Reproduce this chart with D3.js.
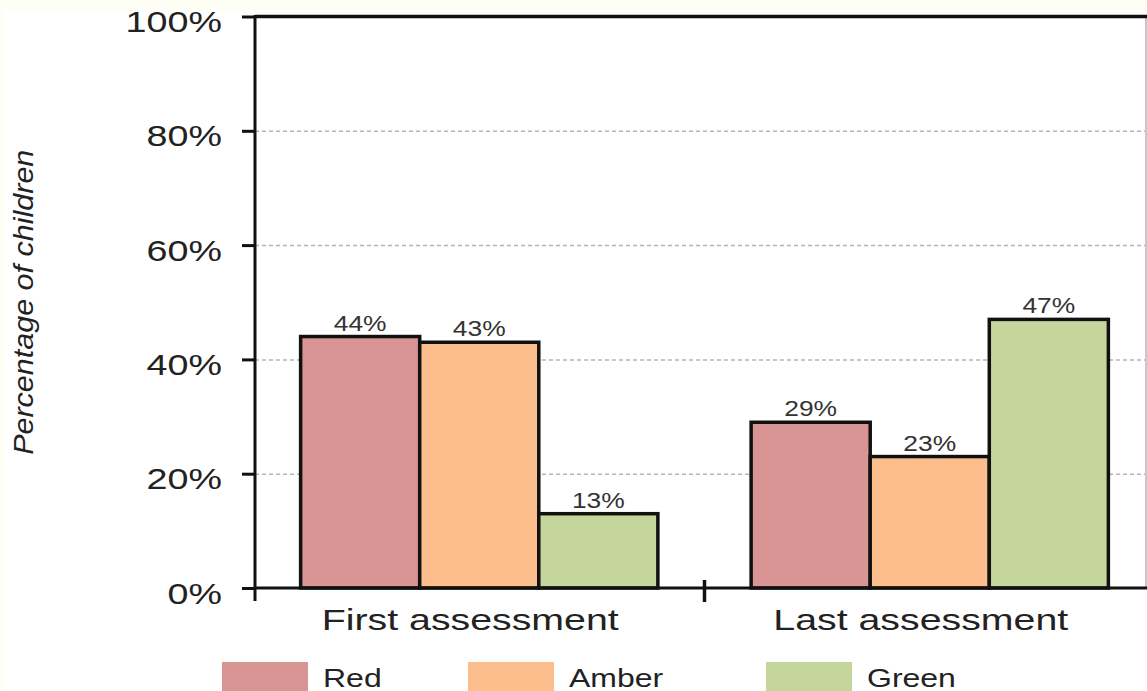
<!DOCTYPE html>
<html>
<head>
  <meta charset='utf-8'>
  <style>
  body { margin: 0; background: #fffef4; }
  svg { display: block; }
  text { font-family: 'Liberation Sans', Arial, sans-serif; fill: #222; }
  .grid line { stroke: #b4b4b4; stroke-width: 1.5px; stroke-dasharray: 4,3; }
  .grid path { display: none; }
  .bar { stroke: #111; stroke-width: 3.5px; }
  </style>
</head>
<body>
<script src='https://d3js.org/d3.v7.min.js'></script>
<script>

var groups = ['First assessment', 'Last assessment'];
var series = ['Red', 'Amber', 'Green'];
var colors = ['#d99594', '#fbbe8c', '#c4d69b'];
var firstValues = [44, 43, 13];
var lastValues = [29, 23, 47];
var yTicks = [0, 20, 40, 60, 80, 100];

var W = 1147, H = 691;
var axisX = 255, plotTop = 16.5, plotBottom = 588, plotRight = 1147;

var svg = d3.select('body').append('svg')
    .attr('width', W).attr('height', H);

svg.append('rect')
    .attr('x', 5).attr('y', 11)
    .attr('width', W).attr('height', H)
    .attr('fill', '#fff');

var x0 = d3.scaleBand()
    .domain(groups)
    .range([254, 1155])
    .paddingInner(0.207)
    .paddingOuter(0.1035);

var x1 = d3.scaleBand()
    .domain(series)
    .range([0, x0.bandwidth()]);

var y = d3.scaleLinear()
    .domain([0, 100])
    .range([plotBottom, plotTop]);

var color = d3.scaleOrdinal().domain(series).range(colors);

var data = [];
groups.forEach(function(g, gi) {
  var vals = gi === 0 ? firstValues : lastValues;
  series.forEach(function(s, si) {
    data.push({group: g, series: s, value: vals[si]});
  });
});

// stretched text helper (the source picture is wider than its fonts)
function stext(sel, size, sx) {
  return sel.style('font-size', size + 'px')
      .attr('transform', function() {
        var t = d3.select(this);
        return 'translate(' + t.attr('data-x') + ',' + t.attr('data-y') + ') scale(' + sx + ',1)';
      });
}

// dashed grid
svg.append('g')
    .attr('class', 'grid')
    .attr('transform', 'translate(' + axisX + ',0)')
    .call(d3.axisLeft(y).tickValues(yTicks.filter(function(d) { return d > 0 && d < 100; }))
      .tickSize(-(plotRight - axisX)).tickFormat(''));

// right border
svg.append('line')
    .attr('x1', plotRight - 1).attr('x2', plotRight - 1)
    .attr('y1', plotTop).attr('y2', plotBottom)
    .attr('stroke', '#c8c8c8').attr('stroke-width', 2);

// bars
svg.append('g').selectAll('rect')
    .data(data)
    .enter().append('rect')
    .attr('class', 'bar')
    .attr('x', function(d) { return x0(d.group) + x1(d.series); })
    .attr('y', function(d) { return y(d.value); })
    .attr('width', x1.bandwidth())
    .attr('height', function(d) { return y(0) - y(d.value); })
    .attr('fill', function(d) { return color(d.series); });

// value labels
svg.append('g').selectAll('text')
    .data(data)
    .enter().append('text')
    .attr('data-x', function(d) { return x0(d.group) + x1(d.series) + x1.bandwidth() / 2; })
    .attr('data-y', function(d) { return y(d.value) - 6; })
    .attr('text-anchor', 'middle')
    .style('fill', '#333')
    .text(function(d) { return d.value + '%'; })
    .call(stext, 22, 1.2);

// y axis
var yAxis = svg.append('g')
    .attr('transform', 'translate(' + axisX + ',0)')
    .call(d3.axisLeft(y).tickValues(yTicks).tickSize(13).tickFormat(function(d) { return d + '%'; }));
yAxis.select('.domain').remove();
yAxis.selectAll('.tick line').attr('stroke', '#111').attr('stroke-width', 3);
yAxis.selectAll('.tick text')
    .attr('x', null).attr('dy', null)
    .attr('data-x', -33).attr('data-y', 15)
    .attr('text-anchor', 'end')
    .attr('fill', null)
    .call(stext, 29, 1.3);
yAxis.attr('font-family', null).attr('font-size', null);

svg.append('line')
    .attr('x1', axisX).attr('x2', axisX)
    .attr('y1', plotTop - 1.5).attr('y2', plotBottom + 13)
    .attr('stroke', '#111').attr('stroke-width', 3);

// top border
svg.append('line')
    .attr('x1', axisX).attr('x2', plotRight)
    .attr('y1', plotTop).attr('y2', plotTop)
    .attr('stroke', '#111').attr('stroke-width', 3.5);

// x axis baseline
svg.append('line')
    .attr('x1', axisX).attr('x2', plotRight)
    .attr('y1', plotBottom).attr('y2', plotBottom)
    .attr('stroke', '#111').attr('stroke-width', 3);

// divider ticks between groups
svg.append('g').selectAll('line')
    .data(groups.slice(1))
    .enter().append('line')
    .attr('x1', function(d) { return x0(d) - x0.step() * x0.paddingInner() / 2; })
    .attr('x2', function(d) { return x0(d) - x0.step() * x0.paddingInner() / 2; })
    .attr('y1', plotBottom - 8).attr('y2', plotBottom + 14)
    .attr('stroke', '#111').attr('stroke-width', 3.5);

// group labels
svg.append('g').selectAll('text')
    .data(groups)
    .enter().append('text')
    .attr('data-x', function(d) { return x0(d) + x0.bandwidth() / 2 - 9; })
    .attr('data-y', 630)
    .attr('text-anchor', 'middle')
    .text(function(d) { return d; })
    .call(stext, 30, 1.31);

// y label
svg.append('text')
    .attr('transform', 'translate(33,' + ((plotTop + plotBottom) / 2) + ') rotate(-90) scale(1.13,1)')
    .attr('text-anchor', 'middle')
    .style('font-size', '27px')
    .style('font-style', 'italic')
    .text('Percentage of children');

// legend
var legendX = [222, 468, 766];
var legend = svg.append('g').selectAll('g')
    .data(series)
    .enter().append('g')
    .attr('transform', function(d, i) { return 'translate(' + legendX[i] + ',662)'; });

legend.append('rect')
    .attr('width', 86).attr('height', 40)
    .attr('fill', function(d) { return color(d); });

legend.append('text')
    .attr('data-x', 101).attr('data-y', 25)
    .text(function(d) { return d; })
    .call(stext, 25, 1.28);

</script>
</body>
</html>
